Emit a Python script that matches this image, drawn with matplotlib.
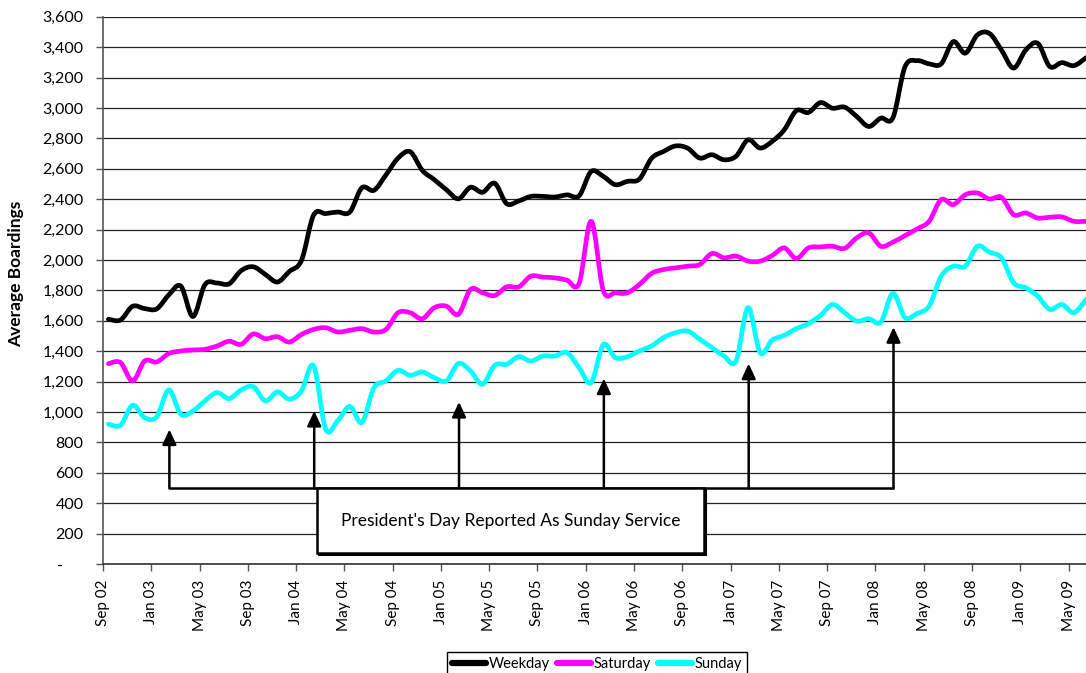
import matplotlib
matplotlib.use("Agg")
import matplotlib.pyplot as plt
import numpy as np
from matplotlib.path import Path
from matplotlib.patches import PathPatch, Rectangle
from matplotlib.lines import Line2D
from matplotlib.ticker import FuncFormatter

plt.rcParams['font.family'] = ['Lato', 'DejaVu Sans']

# monthly average boardings, Sep 02 .. Jun 09
weekday = [1610, 1605, 1695, 1680, 1678, 1770, 1828, 1628, 1838, 1848,
           1843, 1930, 1955, 1905, 1855, 1925, 1998, 2295, 2305, 2315,
           2315, 2475, 2458, 2560, 2670, 2712, 2590, 2528, 2462, 2402,
           2478, 2445, 2505, 2370, 2388, 2418, 2418, 2414, 2428, 2422,
           2582, 2550, 2495, 2517, 2532, 2668, 2714, 2750, 2735, 2670,
           2692, 2659, 2682, 2790, 2736, 2780, 2856, 2982, 2970, 3035,
           2998, 3005, 2944, 2878, 2933, 2935, 3270, 3311, 3290, 3290,
           3436, 3360, 3480, 3490, 3380, 3262, 3380, 3425, 3272, 3298,
           3278, 3330]
saturday = [1318, 1325, 1204, 1335, 1329, 1384, 1401, 1408, 1412, 1434,
            1465, 1445, 1513, 1482, 1495, 1460, 1510, 1543, 1554, 1526,
            1537, 1548, 1526, 1543, 1653, 1653, 1613, 1686, 1696, 1642,
            1806, 1784, 1766, 1823, 1823, 1893, 1887, 1882, 1867, 1845,
            2254, 1800, 1784, 1784, 1839, 1911, 1937, 1948, 1959, 1970,
            2042, 2014, 2025, 1992, 1992, 2029, 2079, 2009, 2079, 2086,
            2090, 2076, 2145, 2178, 2090, 2117, 2160, 2204, 2254, 2397,
            2364, 2429, 2440, 2401, 2412, 2298, 2309, 2276, 2281, 2283,
            2254, 2254]
sunday = [920, 913, 1044, 963, 968, 1145, 985, 1007, 1073, 1128,
          1088, 1145, 1167, 1073, 1132, 1084, 1139, 1303, 887, 942,
          1036, 931, 1160, 1204, 1274, 1241, 1263, 1226, 1204, 1318,
          1270, 1182, 1307, 1314, 1364, 1335, 1368, 1368, 1390, 1292,
          1193, 1442, 1357, 1364, 1401, 1434, 1489, 1521, 1532, 1478,
          1423, 1368, 1335, 1686, 1390, 1473, 1504, 1548, 1581, 1635,
          1707, 1653, 1598, 1613, 1591, 1780, 1620, 1648, 1696, 1893,
          1959, 1959, 2090, 2051, 2014, 1850, 1817, 1762, 1675, 1707,
          1653, 1740]

tick_labels = ['Sep 02', 'Jan 03', 'May 03', 'Sep 03', 'Jan 04', 'May 04',
               'Sep 04', 'Jan 05', 'May 05', 'Sep 05', 'Jan 06', 'May 06',
               'Sep 06', 'Jan 07', 'May 07', 'Sep 07', 'Jan 08', 'May 08',
               'Sep 08', 'Jan 09', 'May 09']

# President's Day (February) months and where the arrows end
feb_months = [5, 17, 29, 41, 53, 65]
arrow_tips = [885, 1007, 1066, 1220, 1318, 1558]
note_text = "President's Day Reported As Sunday Service"

series = [("Weekday", weekday, "black"),
          ("Saturday", saturday, "#ff00ff"),
          ("Sunday", sunday, "#00ffff")]


def smooth_path(xs, ys):
    # Excel-style smoothed line: cubic bezier through each point
    pts = np.column_stack([xs, ys]).astype(float)
    ext = np.vstack([pts[0], pts, pts[-1]])
    verts = [pts[0]]
    codes = [Path.MOVETO]
    for k in range(len(pts) - 1):
        p0, p1, p2, p3 = ext[k], ext[k + 1], ext[k + 2], ext[k + 3]
        c1 = p1 + (p2 - p0) / 6.0
        c2 = p2 - (p3 - p1) / 6.0
        verts += [c1, c2, p2]
        codes += [Path.CURVE4] * 3
    return Path(verts, codes)


fig = plt.figure(figsize=(10.86, 6.73), dpi=100)
ax = fig.add_axes([103 / 1086, 1 - 564 / 673, 1 - 103 / 1086, (564 - 16.7) / 673])

ax.set_xlim(0, 81.45)
ax.set_ylim(0, 3600)

ax.set_yticks(np.arange(0, 3601, 200))
ax.yaxis.set_major_formatter(FuncFormatter(
    lambda v, p: '-' + ' ' * 5 if v == 0 else f'{int(v):,}'))
ax.grid(axis='y', color='#222222', linewidth=0.9)
ax.set_axisbelow(True)

ax.set_xticks(np.arange(0, 82, 4))
ax.set_xticklabels(tick_labels, rotation=90, fontsize=11)
ax.tick_params(axis='y', labelsize=11.5, length=5, width=1, color='#555555', pad=9)
ax.tick_params(axis='x', length=5, width=1, color='#555555', pad=6)

for s in ['top', 'right']:
    ax.spines[s].set_visible(False)
ax.spines['left'].set_color('#555555')
ax.spines['left'].set_linewidth(1.2)
ax.spines['bottom'].set_color('#333333')
ax.spines['bottom'].set_linewidth(1.2)

ax.set_ylabel('Average Boardings', fontsize=12.5, fontweight='bold')
ax.yaxis.set_label_coords(-0.08, 0.53)

x = np.arange(len(weekday)) + 0.45
handles = []
for name, vals, col in series:
    patch = PathPatch(smooth_path(x, vals), facecolor='none', edgecolor=col,
                      lw=3.4, capstyle='round', joinstyle='round', zorder=3)
    ax.add_patch(patch)
    handles.append(Line2D([], [], color=col, lw=4.5, solid_capstyle='round'))

# annotation: connector, arrows and note box
arrow_x = [m + 0.5 for m in feb_months]
conn_y = 497
ax.plot([arrow_x[0], arrow_x[-1]], [conn_y, conn_y], color='black', lw=1.8,
        zorder=4, solid_capstyle='butt')
for ax_x, tip in zip(arrow_x, arrow_tips):
    ax.annotate('', xy=(ax_x, tip), xytext=(ax_x, conn_y),
                arrowprops=dict(arrowstyle='-|>,head_length=0.6,head_width=0.28',
                                color='black', lw=1.8, mutation_scale=15,
                                shrinkA=0, shrinkB=0), zorder=4)

box_x0, box_x1, box_y0 = 17.74, 49.76, 74
ax.add_patch(Rectangle((box_x0 + 0.17, box_y0 - 13), box_x1 - box_x0, conn_y - box_y0,
                       facecolor='black', edgecolor='black', lw=1.5, zorder=5))
ax.add_patch(Rectangle((box_x0, box_y0), box_x1 - box_x0, conn_y - box_y0,
                       facecolor='white', edgecolor='black', lw=1.8, zorder=6))
ax.text((box_x0 + box_x1) / 2, 282, note_text, ha='center', va='center',
        fontsize=12.5, zorder=7)

leg = fig.legend(handles, [s[0] for s in series], loc='upper center',
                 bbox_to_anchor=(597 / 1086, 1 - 645 / 673), ncol=3,
                 frameon=True, fancybox=False, edgecolor='black', framealpha=1,
                 handlelength=2.3, handletextpad=0.2, columnspacing=0.5,
                 borderpad=0.35, fontsize=10.5)
leg.get_frame().set_linewidth(1.0)

fig.savefig('out.png', dpi=100)
